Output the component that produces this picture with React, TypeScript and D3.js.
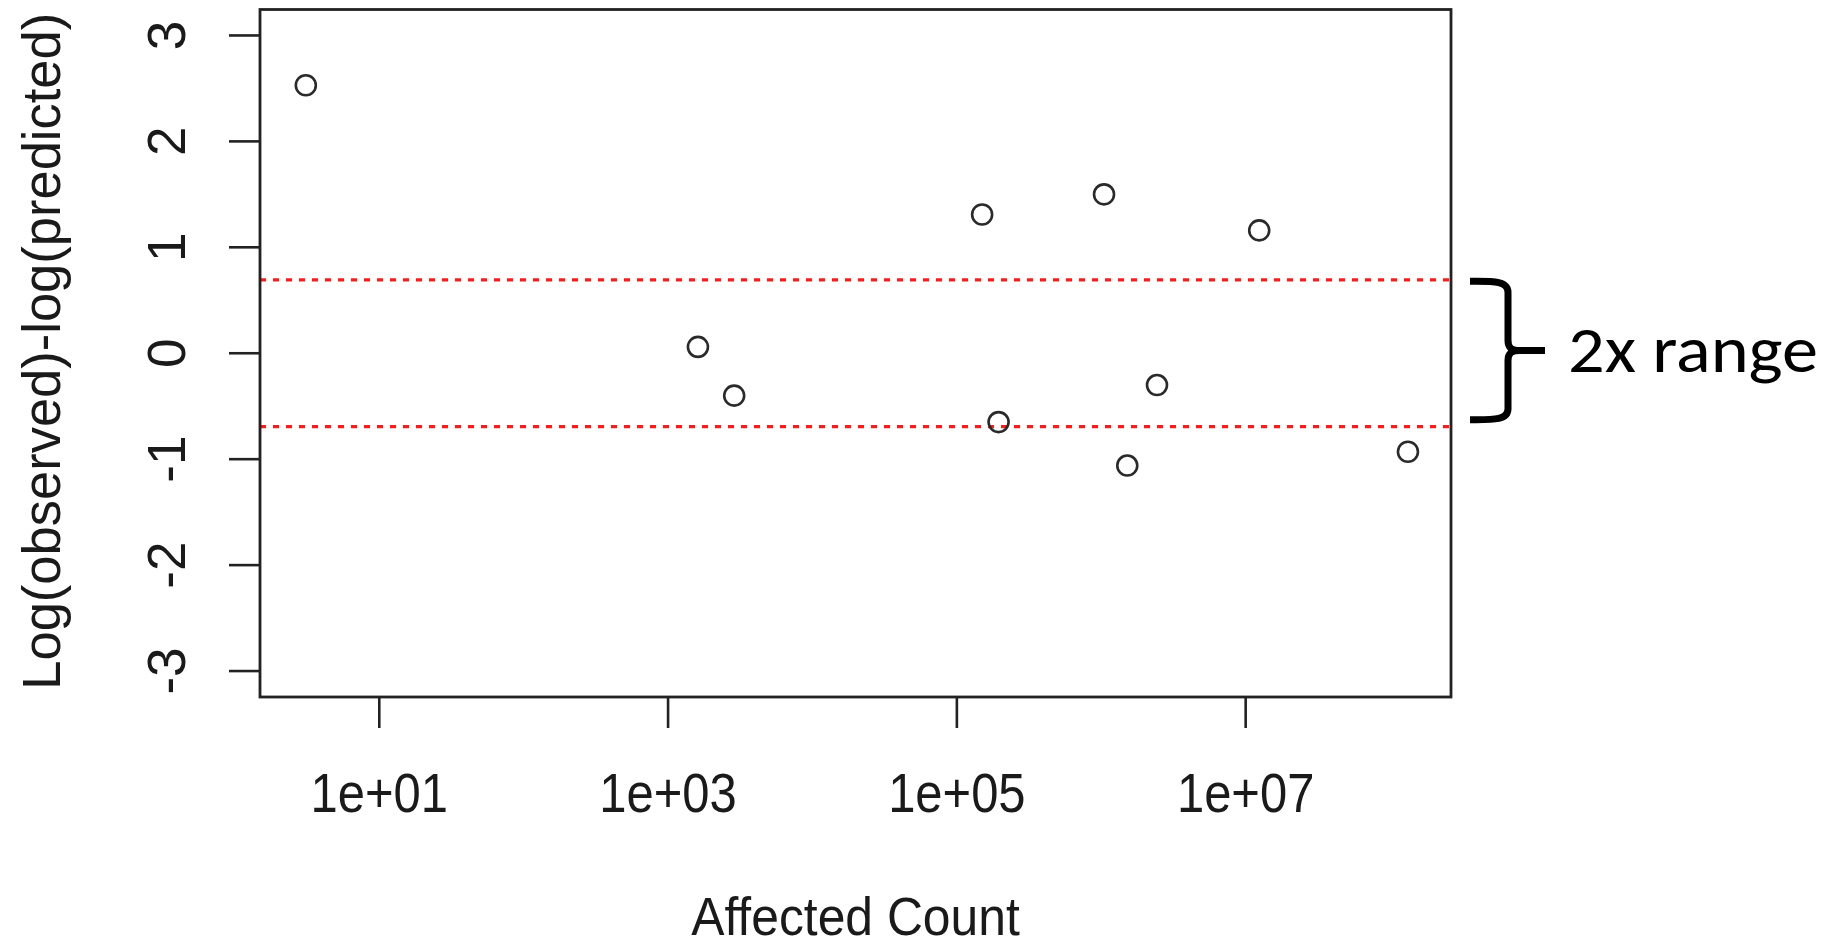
import React from "react";
import * as d3 from "d3";

// Data
const affectedCount = [3.1, 1610, 2870, 149600, 194500, 1045000, 1514000, 2432000, 12410000, 133000000];
const logRatio = [2.53, 0.06, -0.4, 1.31, -0.65, 1.5, -1.06, -0.3, 1.16, -0.93];

const xTickValues = [10, 1000, 100000, 10000000];
const xTickLabels = ["1e+01", "1e+03", "1e+05", "1e+07"];
const yTickValues = [-3, -2, -1, 0, 1, 2, 3];
const yTickLabels = ["-3", "-2", "-1", "0", "1", "2", "3"];
const refLines = [Math.log(2), -Math.log(2)];

const xTitle = "Affected Count";
const yTitle = "Log(observed)-log(predicted)";
const annotation = "2x range";

const W = 1829;
const H = 946;
const plot = { left: 260, right: 1451, top: 9.5, bottom: 697 };

export default function App() {
  const xS = d3
    .scaleLog()
    .domain([Math.pow(10, 0.174), Math.pow(10, 8.422)])
    .range([plot.left, plot.right]);
  const yS = d3.scaleLinear().domain([-3.245, 3.245]).range([plot.bottom, plot.top]);

  const axisColor = "#222";
  const font = "'Liberation Sans', Arial, Helvetica, sans-serif";
  const tickLen = 31;

  const yTop = yS(refLines[0]) + 1.5;
  const yBot = yS(refLines[1]) - 7;
  const yMid = (yTop + yBot) / 2;
  const bx0 = 1470;
  const bxs = 1508;
  const bx1 = 1545;
  const bracePath =
    `M${bx0},${yTop} C${bx0 + 22},${yTop} ${bxs},${yTop - 1} ${bxs},${yTop + 11} ` +
    `L${bxs},${yMid - 10} C${bxs},${yMid - 2} ${bxs + 4},${yMid} ${bxs + 12},${yMid} L${bx1},${yMid} ` +
    `M${bxs + 12},${yMid} C${bxs + 4},${yMid} ${bxs},${yMid + 2} ${bxs},${yMid + 10} ` +
    `L${bxs},${yBot - 11} C${bxs},${yBot + 1} ${bx0 + 22},${yBot} ${bx0},${yBot}`;

  return (
    <svg
      width={W}
      height={H}
      style={{ position: "absolute", left: 0, top: 0, background: "#fff" }}
    >
      <rect x={0} y={0} width={W} height={H} fill="#fff" />
      {/* reference lines */}
      {refLines.map((v, i) => (
        <line
          key={"ref" + i}
          x1={plot.left}
          x2={plot.right}
          y1={yS(v)}
          y2={yS(v)}
          stroke="#ff1a1a"
          strokeWidth={3.2}
          strokeDasharray="6 7"
        />
      ))}
      {/* points */}
      {affectedCount.map((c, i) => (
        <circle
          key={"p" + i}
          cx={xS(c)}
          cy={yS(logRatio[i])}
          r={10}
          fill="none"
          stroke="#2a2a2a"
          strokeWidth={2.6}
        />
      ))}
      {/* plot box */}
      <rect
        x={plot.left}
        y={plot.top}
        width={plot.right - plot.left}
        height={plot.bottom - plot.top}
        fill="none"
        stroke={axisColor}
        strokeWidth={2.8}
      />
      {/* x axis ticks */}
      {xTickValues.map((v, i) => (
        <g key={"xt" + i}>
          <line
            x1={xS(v)}
            x2={xS(v)}
            y1={plot.bottom}
            y2={plot.bottom + tickLen}
            stroke={axisColor}
            strokeWidth={2.6}
          />
          <text
            transform={`translate(${xS(v)},${811.5}) scale(0.89,1)`}
            textAnchor="middle"
            fontFamily={font}
            fontSize={55}
            fill="#1a1a1a"
          >
            {xTickLabels[i]}
          </text>
        </g>
      ))}
      {/* y axis ticks */}
      {yTickValues.map((v, i) => (
        <g key={"yt" + i}>
          <line
            x1={plot.left - tickLen}
            x2={plot.left}
            y1={yS(v)}
            y2={yS(v)}
            stroke={axisColor}
            strokeWidth={2.6}
          />
          <text
            transform={`translate(${185},${yS(v)}) rotate(-90)`}
            textAnchor="middle"
            fontFamily={font}
            fontSize={53}
            fill="#1a1a1a"
          >
            {yTickLabels[i]}
          </text>
        </g>
      ))}
      {/* axis titles */}
      <text
        transform={`translate(${(plot.left + plot.right) / 2},${935}) scale(0.94,1)`}
        textAnchor="middle"
        fontFamily={font}
        fontSize={53}
        fill="#1a1a1a"
      >
        {xTitle}
      </text>
      <text
        transform={`translate(${60},${(plot.top + plot.bottom) / 2 - 2}) rotate(-90)`}
        textAnchor="middle"
        fontFamily={font}
        fontSize={53}
        fill="#1a1a1a"
        textLength={677}
        lengthAdjust="spacingAndGlyphs"
      >
        {yTitle}
      </text>
      {/* brace annotation */}
      <path d={bracePath} fill="none" stroke="#000" strokeWidth={7} strokeLinecap="butt" strokeLinejoin="round" />
      <text
        x={1568}
        y={371.5}
        fontFamily="Carlito, 'Open Sans', 'Noto Sans', sans-serif"
        fontSize={66}
        fill="#000"
        textLength={250}
        lengthAdjust="spacingAndGlyphs"
      >
        {annotation}
      </text>
    </svg>
  );
}
